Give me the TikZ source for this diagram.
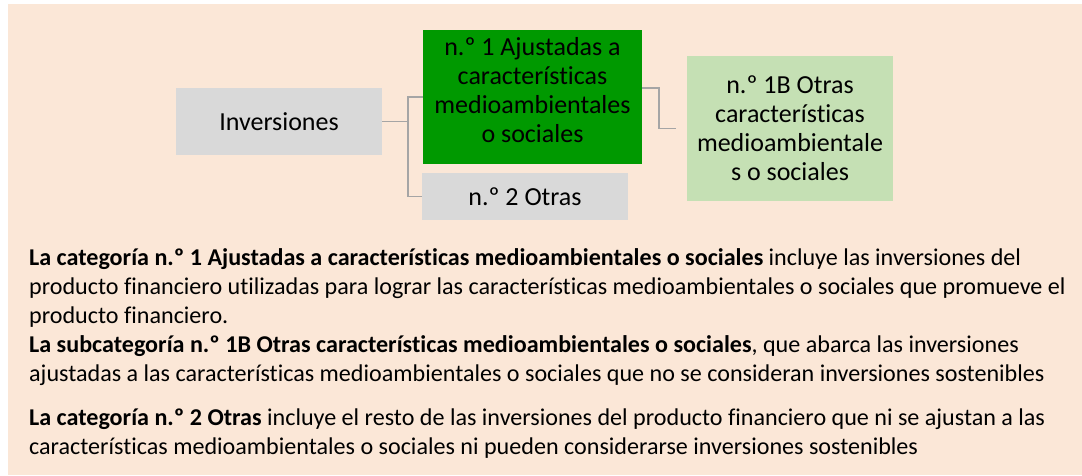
\documentclass[tikz,border=0pt]{standalone}
\usepackage{fontspec}
\setmainfont{Carlito}[Ligatures=NoCommon]
\definecolor{fondo}{HTML}{FBE7D7}
\definecolor{gris}{HTML}{D9D9D9}
\definecolor{verde}{HTML}{009900}
\definecolor{verdeclaro}{HTML}{C5E0B4}
\definecolor{linea}{HTML}{A5A5A5}
\tikzset{
  caja/.style={inner sep=0pt, align=center, font=\fontsize{26}{29}\selectfont},
  conector/.style={linea, line width=1.6pt},
  notas/.style={inner sep=0pt, align=left, font=\fontsize{24.1}{29.2}\selectfont},
}

\begin{document}
\begin{tikzpicture}[x=1pt,y=-1pt]
  \useasboundingbox (0,0) rectangle (1082,475);
  \fill[fondo] (8,4) rectangle (1082,475);

  \node[caja, fill=gris, minimum width=206, minimum height=67] (inv) at (279,121.5) {Inversiones};
  \node[caja, fill=verde, minimum width=219, minimum height=134, text depth=15pt] (ajust) at (532.5,97)
    {n.º 1 Ajustadas a\\características\\medioambientales\\o sociales};
  \node[caja, fill=gris, minimum width=206, minimum height=47] (otras) at (525,196.5) {n.º 2 Otras};
  \node[caja, fill=verdeclaro, minimum width=206, minimum height=145] (sub) at (790,128.5)
    {n.º 1B Otras\\características\\medioambientale\\s o sociales};

  \coordinate (rama) at (408,121.5);
  \draw[conector] (inv.east) -- (rama) |- (ajust.west);
  \draw[conector] (rama) |- (otras.west);
  \coordinate (rama2) at (659,110);
  \draw[conector, shorten >=11pt] ([yshift=-58pt]ajust.north east) -| (rama2) |- (sub.west);

  \node[notas, anchor=north west] (texto) at (29,248) {\textbf{La categoría n.º 1 Ajustadas a características medioambientales o sociales} incluye las inversiones del\\
producto financiero utilizadas para lograr las características medioambientales o sociales que promueve el\\
producto financiero.\\
\textbf{La subcategoría n.º 1B Otras características medioambientales o sociales}, que abarca las inversiones\\
ajustadas a las características medioambientales o sociales que no se consideran inversiones sostenibles\\[14pt]
\textbf{La categoría n.º 2 Otras} incluye el resto de las inversiones del producto financiero que ni se ajustan a las\\
características medioambientales o sociales ni pueden considerarse inversiones sostenibles};
\end{tikzpicture}
\end{document}
